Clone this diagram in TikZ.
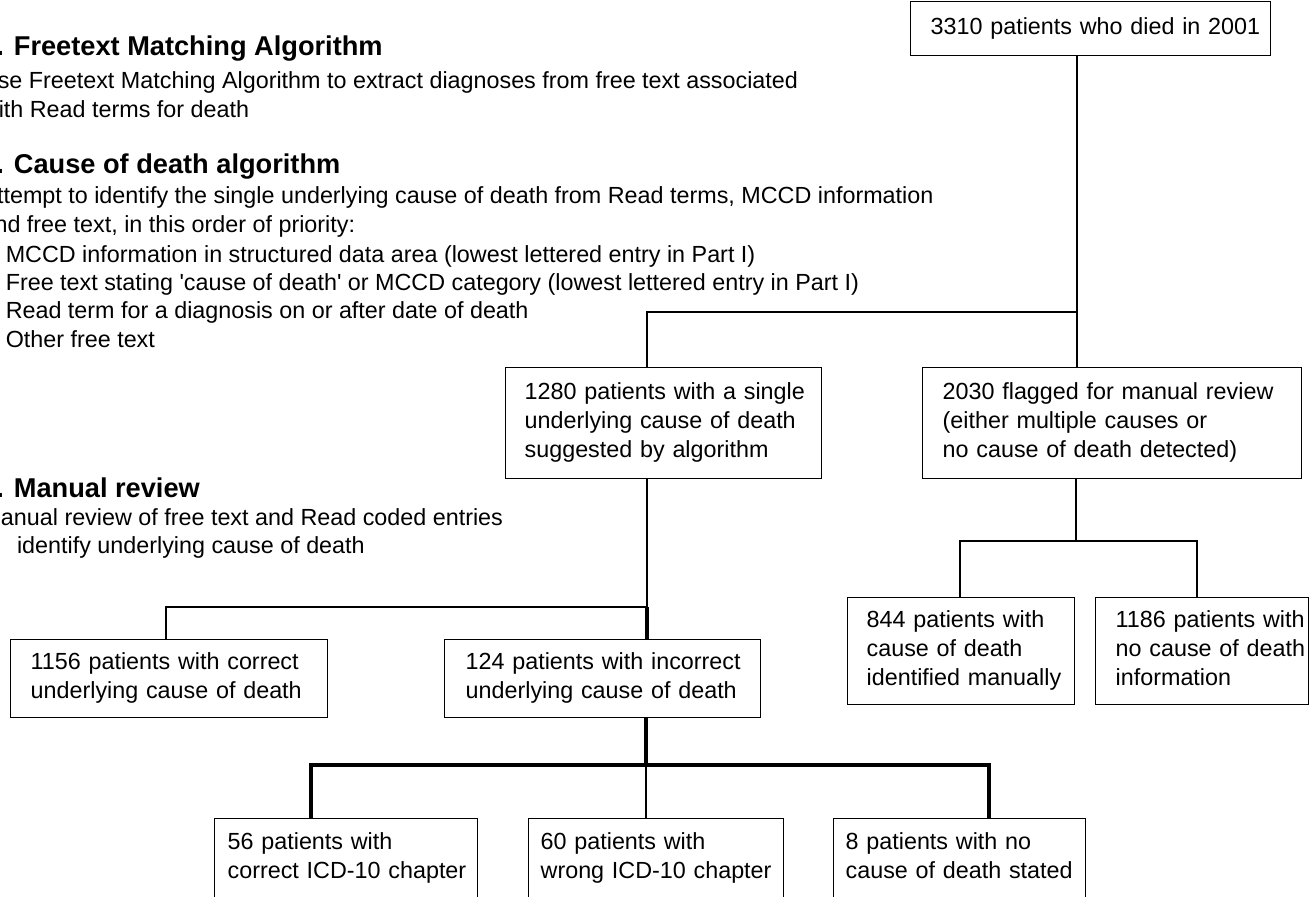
\documentclass[tikz,border=0pt]{standalone}
\usepackage{fontspec}
\setmainfont{Liberation Sans}
\newcommand\bodyfnt{\fontsize{17.5pt}{21.75pt}\selectfont}
\newcommand\headfnt{\fontsize{20.4pt}{24pt}\selectfont\bfseries}
\begin{document}
\begin{tikzpicture}[x=0.75pt,y=-0.75pt,
  box/.style={draw=black, line width=1pt, inner sep=0pt, align=left, font=\bodyfnt, anchor=north west, execute at end node={\strut}},
  lpad/.style={execute at begin node={\leftskip=#1\relax\strut}},
  conn/.style={line width=1.5pt},
  heavy/.style={line width=2.5pt},
  midconn/.style={line width=2pt},
  txt/.style={anchor=base west, inner sep=0pt, font=\bodyfnt},
  head/.style={anchor=base west, inner sep=0pt, font=\headfnt}]
\useasboundingbox (0,0) rectangle (1309,896);
\clip (0,0) rectangle (1309,896);

% left-hand description
\node[head] (h1) at (-4,55) {. Freetext Matching Algorithm};
\node[txt] (b1a) at (-2.5,88) {se Freetext Matching Algorithm to extract diagnoses from free text associated};
\node[txt] (b1b) at (-1.5,117) {ith Read terms for death};
\node[head] (h2) at (-4,173) {. Cause of death algorithm};
\node[txt] (b2a) at (-3.2,203) {ttempt to identify the single underlying cause of death from Read terms, MCCD information};
\node[txt] (b2b) at (-5.7,232) {nd free text, in this order of priority:};
\node[txt] (i1) at (5.5,262) {MCCD information in structured data area (lowest lettered entry in Part I)};
\node[txt] (i2) at (5.5,290) {Free text stating \textquotesingle cause of death\textquotesingle{} or MCCD category (lowest lettered entry in Part I)};
\node[txt] (i3) at (5.5,318) {Read term for a diagnosis on or after date of death};
\node[txt] (i4) at (5.5,347) {Other free text};
\node[head] (h3) at (-4,497) {. Manual review};
\node[txt] (b3a) at (0.7,525) {anual review of free text and Read coded entries};
\node[txt] (b3b) at (16.8,553) {identify underlying cause of death};

% boxes
\node[box, lpad=15pt, text width=270pt, minimum height=40.5pt] (n3310) at (910,1) {3310 patients who died in 2001};
\node[box, lpad=14.25pt, text width=237pt, minimum height=83.25pt] (n1280) at (505,367) {1280 patients with a single\\underlying cause of death\\suggested by algorithm};
\node[box, lpad=15pt, text width=284.25pt, minimum height=83.25pt] (n2030) at (922,367) {2030 flagged for manual review\\(either multiple causes or\\no cause of death detected)};
\node[box, lpad=15pt, text width=237.75pt, minimum height=58.5pt] (n1156) at (10,639) {1156 patients with correct\\underlying cause of death};
\node[box, lpad=15.75pt, text width=237pt, minimum height=58.5pt] (n124) at (444,639) {124 patients with incorrect\\underlying cause of death};
\node[box, lpad=14.25pt, text width=170.25pt, minimum height=80.25pt] (n844) at (847,597) {844 patients with\\cause of death\\identified manually};
\node[box, lpad=15pt, text width=159.75pt, minimum height=80.25pt] (n1186) at (1095,597) {1186 patients with\\no cause of death\\information};
\node[box, lpad=9.75pt, text width=197.25pt, minimum height=60pt] (n56) at (214,818) {56 patients with\\correct ICD-10 chapter};
\node[box, lpad=9pt, text width=191.25pt, minimum height=60pt] (n60) at (528,818) {60 patients with\\wrong ICD-10 chapter};
\node[box, lpad=9pt, text width=189pt, minimum height=60pt] (n8) at (833,818) {8 patients with no\\cause of death stated};

% connectors
\coordinate (j1) at (1077,312);
\coordinate (j1L) at (647,312);
\draw[conn] (j1 |- n3310.south) -- (j1) -- (j1 |- n2030.north);
\draw[conn] (j1) -- (j1L) -- (j1L |- n1280.north);

\coordinate (j2) at (647,607);
\coordinate (j2L) at (166,607);
\draw[conn] (j2 |- n1280.south) -- (j2);
\draw[conn] (j2) -- (j2L) -- (j2L |- n1156.north);
\draw[heavy] (j2) -- (j2 |- n124.north);

\coordinate (j3) at (646,765);
\coordinate (j3L) at (311,765);
\coordinate (j3R) at (989,765);
\draw[heavy] (j3 |- n124.south) -- (j3);
\draw[heavy] (j3L |- n56.north) -- (j3L) -- (j3R) -- (j3R |- n8.north);
\draw[conn] (j3) -- (j3 |- n60.north);

\coordinate (j4) at (1076,541);
\coordinate (j4L) at (960,541);
\coordinate (j4R) at (1197,541);
\draw[conn] (j4 |- n2030.south) -- (j4);
\draw[conn] (j4L |- n844.north) -- (j4L) -- (j4);
\draw[midconn] (j4) -- (j4R) -- (j4R |- n1186.north);
\end{tikzpicture}
\end{document}
